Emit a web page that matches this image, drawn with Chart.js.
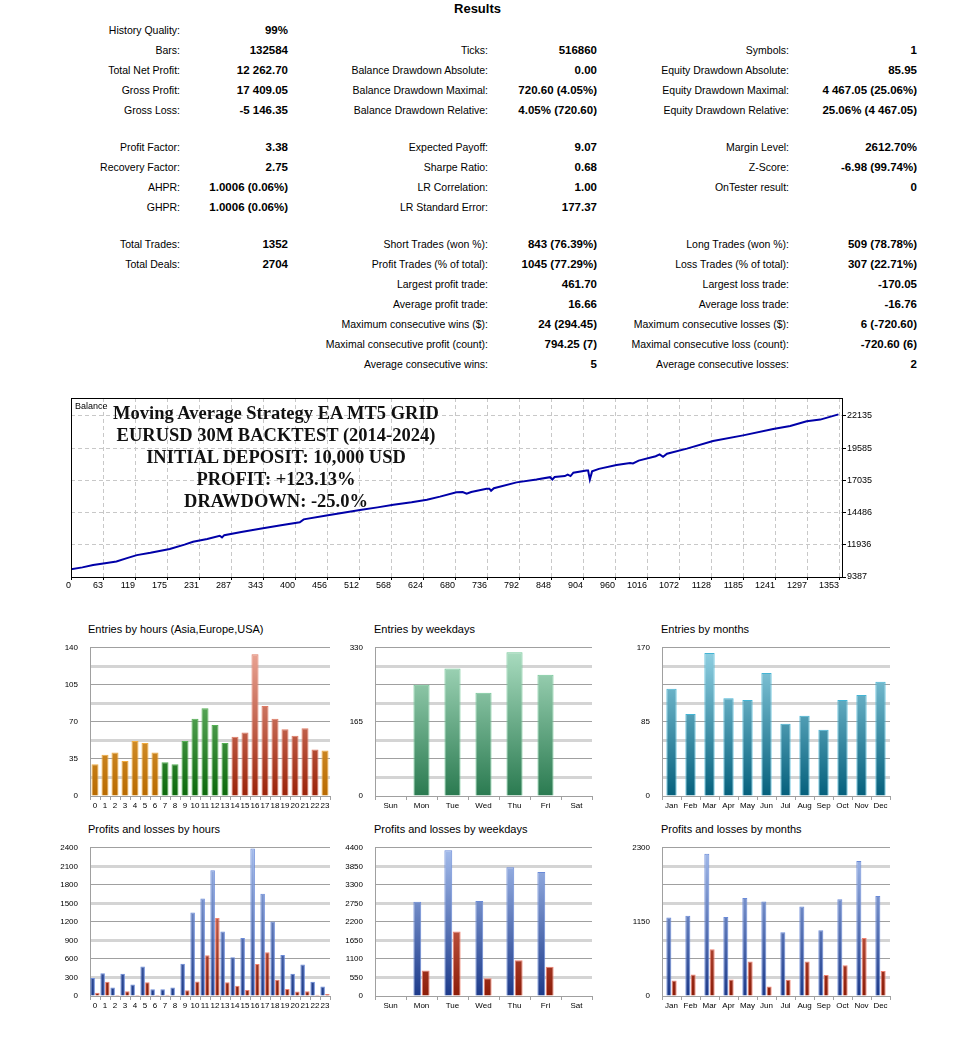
<!DOCTYPE html>
<html lang="en">
<head>
<meta charset="UTF-8">
<title>Strategy Tester Report</title>
<script src="https://cdn.jsdelivr.net/npm/chart.js@4"></script>
<style>
    body { margin: 0; background: #fff; font-family: "Liberation Sans", Arial, sans-serif; color: #000; }
    .page { position: relative; width: 961px; height: 1038px; overflow: hidden; }
    .cell { position: absolute; white-space: nowrap; line-height: 14px; font-size: 10.5px; }
    .val { font-weight: bold; font-size: 11.5px; }
    .results { position: absolute; left: 0; width: 955px; top: 1px; text-align: center; font-weight: bold; font-size: 13px; }
    canvas { position: absolute; }
    .ctitle { position: absolute; font-size: 11px; line-height: 14px; white-space: nowrap; }
    .overlay { position: absolute; left: 76px; width: 400px; top: 402px; text-align: center;
               font-family: "Liberation Serif", "DejaVu Serif", serif; font-weight: bold; font-size: 18.5px; line-height: 22px; color: #111; }
    .balance-label { position: absolute; left: 75px; top: 401px; font-size: 9px; }
</style>
</head>
<body>
<div class="page" id="page">
    <div class="results">Results</div>

    <canvas id="balance" width="900" height="210" style="left:40px;top:390px"></canvas>
    <div class="balance-label">Balance</div>
    <div class="overlay">
        Moving Average Strategy EA MT5 GRID<br>
        EURUSD 30M BACKTEST (2014-2024)<br>
        INITIAL DEPOSIT: 10,000 USD<br>
        PROFIT: +123.13%<br>
        DRAWDOWN: -25.0%
    </div>

    <div class="ctitle" style="left:88px;top:622px">Entries by hours (Asia,Europe,USA)</div>
    <div class="ctitle" style="left:374px;top:622px">Entries by weekdays</div>
    <div class="ctitle" style="left:661px;top:622px">Entries by months</div>
    <div class="ctitle" style="left:88px;top:822px">Profits and losses by hours</div>
    <div class="ctitle" style="left:374px;top:822px">Profits and losses by weekdays</div>
    <div class="ctitle" style="left:661px;top:822px">Profits and losses by months</div>

    <canvas id="entHours" width="298" height="185" style="left:40px;top:631px"></canvas>
    <canvas id="entDays" width="275" height="185" style="left:325px;top:631px"></canvas>
    <canvas id="entMonths" width="286" height="185" style="left:612px;top:631px"></canvas>
    <canvas id="plHours" width="298" height="185" style="left:40px;top:831px"></canvas>
    <canvas id="plDays" width="275" height="185" style="left:325px;top:831px"></canvas>
    <canvas id="plMonths" width="286" height="185" style="left:612px;top:831px"></canvas>
</div>

<script>
    // ---- data ----
    const hourLabels = ['0','1','2','3','4','5','6','7','8','9','10','11','12','13','14','15','16','17','18','19','20','21','22','23'];
    const weekdayLabels = ['Sun','Mon','Tue','Wed','Thu','Fri','Sat'];
    const monthLabels = ['Jan','Feb','Mar','Apr','May','Jun','Jul','Aug','Sep','Oct','Nov','Dec'];

    const hourSession = ['Asia','Asia','Asia','Asia','Asia','Asia','Asia',
        'Europe','Europe','Europe','Europe','Europe','Europe','Europe',
        'USA','USA','USA','USA','USA','USA','USA','USA','USA','Asia'];
    const entriesByHour = [30, 39, 41, 33, 52, 50, 41, 32, 30, 52, 73, 83, 67, 50, 56, 60, 134, 85, 73, 63, 57, 64, 44, 43];
    const entriesByWeekday = [0, 248, 284, 230, 320, 270, 0];
    const entriesByMonth = [123, 94, 164, 112, 110, 141, 83, 92, 76, 110, 116, 131];

    const profitsByHour = [293, 370, 139, 360, 185, 478, 108, 108, 139, 524, 1351, 1578, 2035, 1043, 627, 940, 2390, 1655, 1208, 663, 360, 509, 231, 154];
    const lossesByHour = [51, 231, 15, 77, 15, 221, 15, 20, 5, 92, 236, 658, 1264, 221, 164, 98, 519, 709, 262, 113, 72, 77, 20, 31];
    const profitsByWeekday = [0, 2798, 4325, 2817, 3825, 3684, 0];
    const lossesByWeekday = [0, 754, 1913, 528, 1065, 867, 0];
    const profitsByMonth = [1217, 1246, 2207, 1227, 1522, 1468, 990, 1389, 1020, 1502, 2094, 1552];
    const lossesByMonth = [241, 335, 724, 256, 537, 148, 251, 537, 325, 478, 901, 389];

    const yTicksEntHours = ['0','','35','','70','','105','','140'];
    const yTicksEntDays = ['0','','','','165','','','','330'];
    const yTicksEntMonths = ['0','','','','85','','','','170'];
    const yTicksPlHours = ['0','300','600','900','1200','1500','1800','2100','2400'];
    const yTicksPlDays = ['0','550','1100','1650','2200','2750','3300','3850','4400'];
    const yTicksPlMonths = ['0','','','','1150','','','','2300'];

    const balanceTrades = [0, 20, 39, 60, 80, 100, 116, 140, 174, 200, 215, 240, 262, 266, 270, 300, 333, 370, 403, 410,
        450, 509, 540, 568, 600, 627, 650, 679, 690, 697, 705, 732, 737, 740, 745, 785, 820, 844, 848, 852,
        870, 875, 880, 885, 908, 911, 914, 918, 930, 961, 985, 990, 1000, 1030, 1037, 1043, 1050, 1085, 1131, 1184,
        1237, 1267, 1296, 1320, 1352];
    const balanceValues = [10000, 10150, 10330, 10480, 10620, 10900, 11120, 11300, 11600, 11950, 12180, 12400, 12650, 12520, 12700, 12950, 13200, 13480, 13720, 13950,
        14250, 14700, 14900, 15100, 15300, 15500, 15750, 16100, 16120, 15980, 16120, 16380, 16380, 16220, 16420, 16880, 17100, 17290, 17110, 17300,
        17380, 17500, 17380, 17650, 17820, 17820, 17100, 17750, 17950, 18250, 18420, 18380, 18600, 18950, 19100, 18900, 19150, 19550, 20150, 20600,
        21100, 21350, 21720, 21850, 22263];
    const balanceXTicks = ['0','63','119','175','231','287','343','400','456','512','568','624','680','736','792','848','904','960','1016','1072','1128','1185','1241','1297','1353'];
    const balanceYTicks = [9387, 11936, 14486, 17035, 19585, 22135];

    const reportRows = [
        [30, 'History Quality:', '99%', '', '', '', ''],
        [50, 'Bars:', '132584', 'Ticks:', '516860', 'Symbols:', '1'],
        [70, 'Total Net Profit:', '12 262.70', 'Balance Drawdown Absolute:', '0.00', 'Equity Drawdown Absolute:', '85.95'],
        [90, 'Gross Profit:', '17 409.05', 'Balance Drawdown Maximal:', '720.60 (4.05%)', 'Equity Drawdown Maximal:', '4 467.05 (25.06%)'],
        [110, 'Gross Loss:', '-5 146.35', 'Balance Drawdown Relative:', '4.05% (720.60)', 'Equity Drawdown Relative:', '25.06% (4 467.05)'],
        [147, 'Profit Factor:', '3.38', 'Expected Payoff:', '9.07', 'Margin Level:', '2612.70%'],
        [167, 'Recovery Factor:', '2.75', 'Sharpe Ratio:', '0.68', 'Z-Score:', '-6.98 (99.74%)'],
        [187, 'AHPR:', '1.0006 (0.06%)', 'LR Correlation:', '1.00', 'OnTester result:', '0'],
        [207, 'GHPR:', '1.0006 (0.06%)', 'LR Standard Error:', '177.37', '', ''],
        [244, 'Total Trades:', '1352', 'Short Trades (won %):', '843 (76.39%)', 'Long Trades (won %):', '509 (78.78%)'],
        [264, 'Total Deals:', '2704', 'Profit Trades (% of total):', '1045 (77.29%)', 'Loss Trades (% of total):', '307 (22.71%)'],
        [284, '', '', 'Largest profit trade:', '461.70', 'Largest loss trade:', '-170.05'],
        [304, '', '', 'Average profit trade:', '16.66', 'Average loss trade:', '-16.76'],
        [324, '', '', 'Maximum consecutive wins ($):', '24 (294.45)', 'Maximum consecutive losses ($):', '6 (-720.60)'],
        [344, '', '', 'Maximal consecutive profit (count):', '794.25 (7)', 'Maximal consecutive loss (count):', '-720.60 (6)'],
        [364, '', '', 'Average consecutive wins:', '5', 'Average consecutive losses:', '2']
    ];

    // ---- report table ----
    const colRight = [180, 288, 488, 597, 789, 917];
    const page = document.getElementById('page');
    reportRows.forEach(row => {
        for (let c = 0; c < 6; c++) {
            const txt = row[c + 1];
            if (!txt) continue;
            const d = document.createElement('div');
            d.className = c % 2 ? 'cell val' : 'cell';
            d.style.right = (961 - colRight[c]) + 'px';
            d.style.top = (row[0] - 7) + 'px';
            d.textContent = txt;
            page.appendChild(d);
        }
    });

    Chart.defaults.font.family = '"Liberation Sans", Arial, sans-serif';
    Chart.defaults.color = '#000';

    // ---- balance graph ----
    const frame = {
        id: 'frame',
        afterDraw(chart) {
            const a = chart.chartArea, c = chart.ctx;
            c.save();
            c.strokeStyle = '#000';
            c.lineWidth = 1;
            c.strokeRect(Math.round(a.left) + 0.5, Math.round(a.top) + 0.5, Math.round(a.right - a.left) - 1, Math.round(a.bottom - a.top));
            c.restore();
        }
    };

    new Chart(document.getElementById('balance'), {
        type: 'line',
        data: {
            datasets: [{
                data: balanceTrades.map((t, i) => ({ x: t, y: balanceValues[i] })),
                borderColor: '#0000a8',
                borderWidth: 2,
                pointRadius: 0,
                tension: 0
            }]
        },
        options: {
            responsive: false,
            animation: false,
            layout: { padding: { left: 31, top: 8, right: 0, bottom: 0 } },
            plugins: { legend: { display: false }, tooltip: { enabled: false } },
            scales: {
                x: {
                    type: 'linear', min: 0, max: 1360,
                    afterBuildTicks: s => { s.ticks = balanceXTicks.map((_, i) => ({ value: i * 1353 / 24 })); },
                    ticks: { callback: (v, i) => balanceXTicks[i], align: 'end', padding: 0, autoSkip: false, maxRotation: 0, font: { size: 9 } },
                    grid: { color: '#c8c8c8', tickColor: '#000', tickLength: 3 },
                    border: { display: false, dash: [4, 3] },
                    afterFit: s => { s.height = 23; }
                },
                y: {
                    position: 'right', min: 9387, max: 23560,
                    afterBuildTicks: s => { s.ticks = balanceYTicks.map(v => ({ value: v })); },
                    ticks: { callback: v => String(v), padding: 1, font: { size: 9 } },
                    grid: { color: '#c8c8c8', tickColor: '#000', tickLength: 3 },
                    border: { display: false, dash: [4, 3] },
                    afterFit: s => { s.width = 97; }
                }
            }
        },
        plugins: [frame]
    });

    // ---- bar charts ----
    function grad(top, bottom) {
        return function (ctx) {
            const area = ctx.chart.chartArea;
            if (!area) return bottom;
            const g = ctx.chart.ctx.createLinearGradient(0, area.top, 0, area.bottom);
            g.addColorStop(0, top);
            g.addColorStop(1, bottom);
            return g;
        };
    }

    function barChart(id, labels, datasets, yLabels, catPct, barPct) {
        const max = Number(yLabels[yLabels.length - 1]);
        return new Chart(document.getElementById(id), {
            type: 'bar',
            data: { labels: labels, datasets: datasets },
            options: {
                responsive: false,
                animation: false,
                layout: { padding: { left: 0, top: 10, right: 8, bottom: 0 } },
                plugins: { legend: { display: false }, tooltip: { enabled: false } },
                datasets: { bar: { categoryPercentage: catPct, barPercentage: barPct } },
                scales: {
                    x: {
                        ticks: { autoSkip: false, maxRotation: 0, padding: 1, font: { size: 8 } },
                        grid: { drawOnChartArea: false, offset: true, color: '#a0a0a0', tickLength: 4 },
                        border: { color: '#a0a0a0' },
                        afterFit: s => { s.height = 20; }
                    },
                    y: {
                        min: 0, max: max,
                        afterBuildTicks: s => { s.ticks = yLabels.map((_, i) => ({ value: max * i / 8 })); },
                        ticks: { callback: (v, i) => yLabels[i], padding: 12, font: { size: 8 } },
                        grid: {
                            drawTicks: false,
                            color: c => (c.index % 2 === 0 ? '#a0a0a0' : '#d4d4d4'),
                            lineWidth: c => (c.index % 2 === 0 ? 1 : 3)
                        },
                        border: { color: '#a0a0a0' },
                        afterFit: s => { s.width = 50; }
                    }
                }
            }
        });
    }

    const sessionFill = {
        Asia: grad('#f6c46c', '#b86a00'),
        Europe: grad('#86cc86', '#0c680c'),
        USA: grad('#eca898', '#9a2208')
    };
    const sessionBorder = { Asia: '#f0ac40', Europe: '#54b054', USA: '#e07a64' };

    barChart('entHours', hourLabels, [{
        data: entriesByHour,
        backgroundColor: c => sessionFill[hourSession[c.dataIndex]](c),
        borderColor: hourSession.map(s => sessionBorder[s]),
        borderWidth: 1
    }], yTicksEntHours, 1, 0.7);

    barChart('entDays', weekdayLabels, [{
        data: entriesByWeekday,
        backgroundColor: grad('#acdec2', '#2a7a50'),
        borderColor: '#74c898',
        borderWidth: 1
    }], yTicksEntDays, 1, 0.52);

    barChart('entMonths', monthLabels, [{
        data: entriesByMonth,
        backgroundColor: grad('#92d2e4', '#05607c'),
        borderColor: '#44b4d4',
        borderWidth: 1
    }], yTicksEntMonths, 1, 0.54);

    const profitFill = grad('#a4bcec', '#1c3a8a');
    const lossFill = grad('#f0907c', '#8c1c08');

    barChart('plHours', hourLabels, [
        { data: profitsByHour, backgroundColor: profitFill, borderColor: '#6a8ad8', borderWidth: 1 },
        { data: lossesByHour, backgroundColor: lossFill, borderColor: '#f08070', borderWidth: 1 }
    ], yTicksPlHours, 0.95, 0.95);

    barChart('plDays', weekdayLabels, [
        { data: profitsByWeekday, backgroundColor: profitFill, borderColor: '#6a8ad8', borderWidth: 1 },
        { data: lossesByWeekday, backgroundColor: lossFill, borderColor: '#f08070', borderWidth: 1 }
    ], yTicksPlDays, 0.54, 0.94);

    barChart('plMonths', monthLabels, [
        { data: profitsByMonth, backgroundColor: profitFill, borderColor: '#6a8ad8', borderWidth: 1 },
        { data: lossesByMonth, backgroundColor: lossFill, borderColor: '#f08070', borderWidth: 1 }
    ], yTicksPlMonths, 0.56, 0.94);
</script>
</body>
</html>
